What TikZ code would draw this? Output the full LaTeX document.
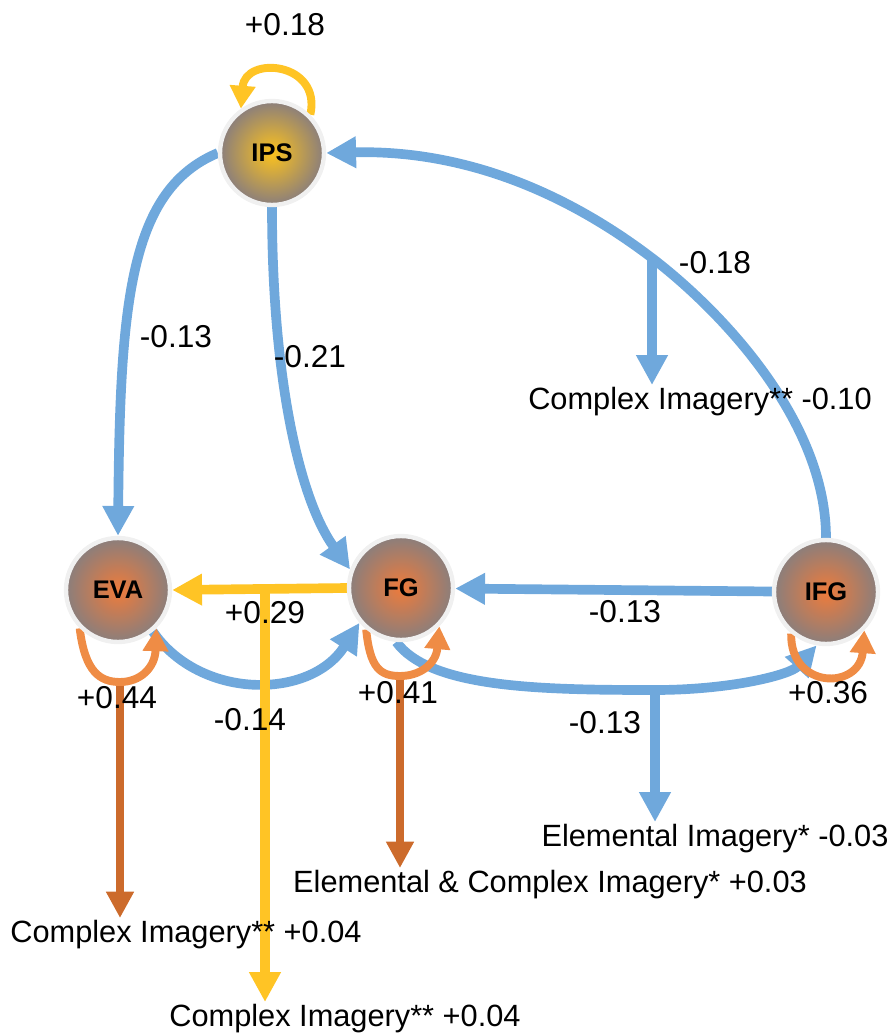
\documentclass[tikz,border=0pt]{standalone}
\usepackage{fontspec}
\setmainfont{Liberation Sans}
\usepackage{tikz}
\usetikzlibrary{arrows.meta,calc,backgrounds}
\definecolor{negCol}{HTML}{6FA8DC}
\definecolor{posCol}{HTML}{FFC425}
\definecolor{selfCol}{HTML}{EF8C45}
\definecolor{medCol}{HTML}{CC6B2C}
\definecolor{coreOra}{HTML}{EE7B3B}
\definecolor{coreYel}{HTML}{FCC21D}
\definecolor{edgeCol}{HTML}{8A7E7C}
\tikzset{
  roi/.style={circle, draw=gray!12, line width=2.5pt, minimum size=2.08cm, inner sep=0pt,
              outer color=edgeCol, inner color=coreOra, font=\fontsize{14.5}{16}\selectfont\bfseries},
  negp/.style={-{Triangle[length=17pt,width=17pt]}, line width=5.5pt, negCol},       % negative path
  posp/.style={-{Triangle[length=17pt,width=17pt]}, line width=5.5pt, posCol},       % positive path
  selfl/.style={-{Triangle[length=13pt,width=14pt]}, line width=4.5pt, selfCol},     % self connection
  med/.style={-{Triangle[length=15pt,width=15pt]}, line width=4.5pt, medCol},        % imagery effect
  wlbl/.style={font=\fontsize{18}{21}\selectfont, inner sep=1pt},
  ilbl/.style={font=\fontsize{17.5}{20}\selectfont, inner sep=1pt, anchor=north},
}

\begin{document}
\begin{tikzpicture}[x=0.02cm, y=-0.02cm]
  \useasboundingbox (0,0) rectangle (893,1034);

  \node[roi, inner color=coreYel] (ips) at (272,153) {IPS};
  \node[roi] (eva) at (118,590) {EVA};
  \node[roi] (fg)  at (401,588) {FG};
  \node[roi] (ifg) at (826,592) {IFG};

  \coordinate (m1) at (652,258);
  \coordinate (m2) at (265,588);
  \coordinate (m3) at (655,690);
  \coordinate (n1) at (120,682);
  \coordinate (n2) at (400,676);

  % imagery labels
  \node[ilbl] (imA) at (700,385) {Complex Imagery** -0.10};
  \node[ilbl] (imB) at (715,822) {Elemental Imagery* -0.03};
  \node[ilbl] (imC) at (550,868) {Elemental \& Complex Imagery* +0.03};
  \node[ilbl] (imD) at (186,918) {Complex Imagery** +0.04};
  \node[ilbl] (imE) at (345,1002) {Complex Imagery** +0.04};

  % weights
  \node[wlbl] (wA) at (285,25)  {+0.18};
  \node[wlbl] (wB) at (176,337) {-0.13};
  \node[wlbl] (wC) at (310,357) {-0.21};
  \node[wlbl] (wD) at (715,263) {-0.18};
  \node[wlbl] (wE) at (265,613) {+0.29};
  \node[wlbl] (wF) at (625,612) {-0.13};
  \node[wlbl] (wG) at (117,698) {+0.44};
  \node[wlbl] (wH) at (250,720) {-0.14};
  \node[wlbl] (wI) at (398,693) {+0.41};
  \node[wlbl] (wJ) at (605,723) {-0.13};
  \node[wlbl] (wK) at (828,693) {+0.36};

  \begin{scope}[on background layer]
  % connections
  \draw[negp] (ips.west) .. controls (130,190) and (120,300) .. (eva.north);
  \draw[negp] (ips.south) .. controls (272,380) and (300,500) .. (fg.160);
  \draw[negp] (ifg.north) .. controls (826,420) and (720,310) .. (m1)
              .. controls (552,182) and (450,150) .. (ips.east);
  \draw[negp] (m1) -- (imA.north -| m1);
  \draw[negp] (ifg) -- (fg);
  \draw[negp] (eva.-50) .. controls (200,700) and (310,700) .. (fg.-140);
  \draw[negp] (fg.-95) .. controls (430,688) and (540,690) .. (m3)
              .. controls (730,690) and (790,675) .. (ifg.-100);
  \draw[negp] (m3) -- (imB.north -| m3);
  \draw[posp] (fg.west) -- (eva.east);
  \draw[posp] (m2) -- (imE.north -| m2);

  % self connections
  \draw[posp, line width=4.5pt, -{Triangle[length=13pt,width=14pt]}]
       (ips.45) .. controls (322,62) and (245,55) .. (ips.125);
  \draw[med] (n1) -- (imD.north -| n1);
  \draw[med] (n2) -- (imC.north -| n2);
  \draw[selfl] (eva.-135) .. controls (85,672) and (100,682) .. (n1)
               .. controls (140,682) and (155,668) .. (eva.-45);
  \draw[selfl] (fg.-130) .. controls (370,668) and (380,676) .. (n2)
               .. controls (420,676) and (436,664) .. (fg.-45);
  \draw[selfl] (ifg.-130) .. controls (790,690) and (860,690) .. (ifg.-45);
  \end{scope}
\end{tikzpicture}
\end{document}
